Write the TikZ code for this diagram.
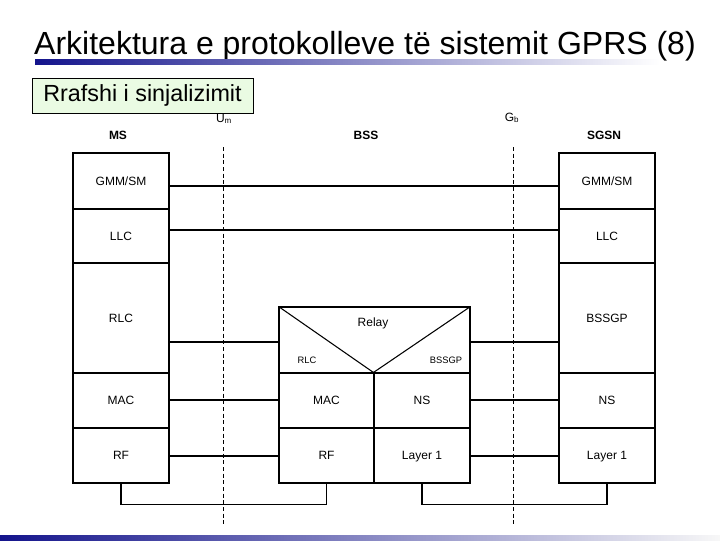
\documentclass[tikz,border=0pt]{standalone}
\usepackage{fontspec}
\setmainfont{Liberation Sans}
\usetikzlibrary{calc}
\definecolor{navy}{HTML}{14148C}
\definecolor{paleg}{HTML}{EAFBE3}
\begin{document}
\begin{tikzpicture}[x=0.75pt,y=-0.75pt,
  layer/.style={draw, line width=0.8pt, inner sep=0pt, minimum width=72pt, font=\fontsize{9}{10}\selectfont, text height=6.5pt, text depth=0pt},
  wire/.style={line width=0.8pt},
  iface/.style={dash pattern=on 3pt off 2pt, line width=0.6pt},
  ent/.style={font=\bfseries\fontsize{9}{10}\selectfont},
  lbl/.style={font=\fontsize{9}{10}\selectfont, inner sep=0pt},
  tiny/.style={font=\fontsize{7}{8}\selectfont, inner sep=0pt}]
\useasboundingbox (0,0) rectangle (720,540);
\fill[white] (0,0) rectangle (720,540);
% title
\node[anchor=base, inner sep=0pt, font=\fontsize{24}{28}\selectfont] (title) at (365,54) {Arkitektura e protokolleve të sistemit GPRS (8)};
\shade[left color=navy, right color=white] (35,59) rectangle (660,64);
\shade[left color=navy, right color=white!94!gray] (0,535) rectangle (720,540);
% plane label
\node[draw, fill=paleg, line width=0.6pt, minimum width=165.75pt, minimum height=26.25pt, inner sep=0pt, font=\fontsize{17.5}{20}\selectfont] (plane) at (142.5,95.5) {Rrafshi i sinjalizimit};
% interface labels
\node[font=\fontsize{9}{10}\selectfont, inner sep=0pt] (um) at (224,119) {U\textsubscript{m}};
\node[font=\fontsize{9}{10}\selectfont, inner sep=0pt] (gb) at (512,118) {G\textsubscript{b}};
% entity labels
\node[ent] (ms) at (118,135) {MS};
\node[ent] (bss) at (366,135) {BSS};
\node[ent] (sgsn) at (604,135) {SGSN};
% interface dashed lines
\coordinate (umtop) at (223,147);
\coordinate (umbot) at (223,525);
\coordinate (gbtop) at (513,147);
\coordinate (gbbot) at (513,525);
\draw[iface] (umtop) -- (umbot);
\draw[iface] (gbtop) -- (gbbot);
% MS stack
\node[layer, minimum height=42pt] (msgmm) at (121,181) {GMM/SM};
\node[layer, minimum height=40.5pt] (msllc) at (121,236) {LLC};
\node[layer, minimum height=82.5pt] (msrlc) at (121,318) {RLC};
\node[layer, minimum height=41.25pt] (msmac) at (121,400.5) {MAC};
\node[layer, minimum height=41.25pt] (msrf) at (121,455.5) {RF};
% SGSN stack
\node[layer, minimum height=42pt] (sgsngmm) at (607,181) {GMM/SM};
\node[layer, minimum height=40.5pt] (sgsnllc) at (607,236) {LLC};
\node[layer, minimum height=82.5pt] (sgsnbssgp) at (607,318) {BSSGP};
\node[layer, minimum height=41.25pt] (sgsnns) at (607,400.5) {NS};
\node[layer, minimum height=41.25pt] (sgsnl1) at (607,455.5) {Layer 1};
% BSS stack
\node[layer, minimum width=143.25pt, minimum height=49.5pt] (relaybox) at (374.5,340) {};
\node[layer, minimum width=71.25pt, minimum height=41.25pt] (bssmac) at (326.5,400.5) {MAC};
\node[layer, minimum width=71.25pt, minimum height=41.25pt] (bssrf) at (326.5,455.5) {RF};
\node[layer, minimum width=72pt, minimum height=41.25pt] (bssns) at (422,400.5) {NS};
\node[layer, minimum width=72pt, minimum height=41.25pt] (bssl1) at (422,455.5) {Layer 1};
\draw[wire] (relaybox.north west) -- (bssns.north west) -- (relaybox.north east);
\node[lbl] (relay) at (373,323) {Relay};
\node[tiny] (rlcs) at (307,360) {RLC};
\node[tiny] (bssgps) at (446,360) {BSSGP};
% peer connectors
\draw[wire] (msgmm.east |- 0,186) -- (sgsngmm.west |- 0,186);
\draw[wire] (msllc.east |- 0,230) -- (sgsnllc.west |- 0,230);
\draw[wire] (msrlc.east |- 0,342) -- (relaybox.west |- 0,342);
\draw[wire] (msmac.east |- 0,400) -- (bssmac.west |- 0,400);
\draw[wire] (msrf.east |- 0,456) -- (bssrf.west |- 0,456);
\draw[wire] (relaybox.east |- 0,342) -- (sgsnbssgp.west |- 0,342);
\draw[wire] (bssns.east |- 0,400) -- (sgsnns.west |- 0,400);
\draw[wire] (bssl1.east |- 0,456) -- (sgsnl1.west |- 0,456);
% physical links
\draw[wire] (msrf.south) -- ++(0,21) -| (bssrf.south);
\draw[wire] (bssl1.south) -- ++(0,21) -| (sgsnl1.south);
\end{tikzpicture}
\end{document}
